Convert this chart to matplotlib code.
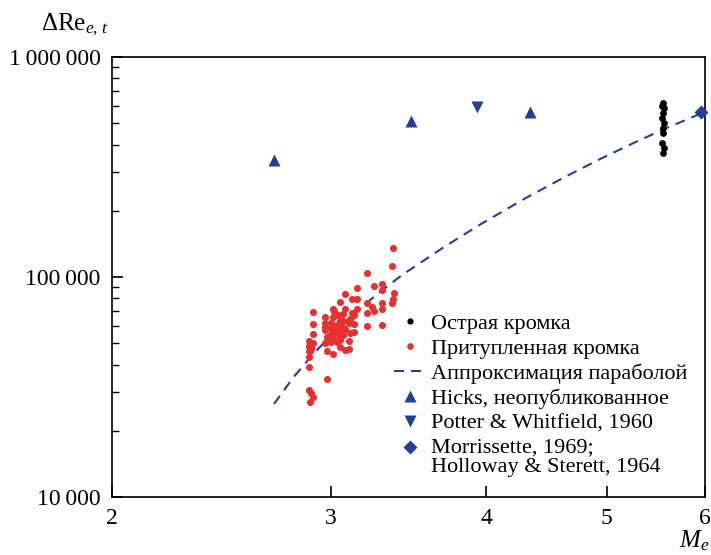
import matplotlib
matplotlib.use("Agg")
import matplotlib.pyplot as plt
import matplotlib.transforms as mtransforms
from matplotlib.ticker import FixedLocator, NullLocator, LogLocator, NullFormatter, FixedFormatter
from matplotlib.lines import Line2D

plt.rcParams['font.family'] = ['Liberation Serif', 'DejaVu Serif']
plt.rcParams['mathtext.fontset'] = 'custom'
plt.rcParams['mathtext.rm'] = 'Liberation Serif'
plt.rcParams['mathtext.it'] = 'Liberation Serif:italic'

# ---- data ----
sharp_M = [5.55, 5.54, 5.56, 5.55, 5.54, 5.56, 5.55, 5.55, 5.54, 5.56, 5.55]
sharp_Re = [618e3, 600e3, 586e3, 556e3, 528e3, 501e3, 475e3, 451e3, 406e3, 386e3, 366e3]

blunt_M = [3.365, 3.36, 3.21, 3.15, 3.08, 3.12, 3.15, 3.05, 3.30, 3.30, 3.25, 3.37,
           3.365, 3.36, 3.30, 3.21, 3.24, 3.25, 3.30, 3.21, 3.15, 3.08, 3.01, 3.12,
           3.13, 2.90, 2.97, 3.01, 3.05, 3.07, 3.11, 3.10, 3.13, 2.97, 3.00, 3.035,
           3.065, 3.08, 3.05, 3.01, 2.97, 2.98, 3.01, 3.05, 3.07, 3.11, 3.13, 3.21,
           3.30, 2.90, 2.90, 2.88, 2.89, 2.885, 2.88, 2.88, 2.98, 3.01, 3.05, 3.08,
           3.10, 3.10, 2.88, 2.98, 2.88, 2.89, 2.90, 2.885, 2.97, 3.00, 3.035, 3.05,
           2.97, 3.00, 3.03, 3.05, 3.00, 2.98, 2.89, 2.90, 2.88, 3.04, 3.07, 3.02]
blunt_Re = [135.5e3, 112e3, 104e3, 89.4e3, 83.4e3, 79.4e3, 79.4e3, 76.9e3, 93.3e3, 87.3e3, 91.3e3, 84.3e3,
            79.4e3, 76.4e3, 76.4e3, 75.9e3, 73.3e3, 70.3e3, 71.3e3, 68.8e3, 71.3e3, 71.8e3, 71.8e3, 68.4e3,
            67.0e3, 69.3e3, 65.6e3, 65.6e3, 63.3e3, 63.3e3, 64.7e3, 61.6e3, 61.0e3, 62.0e3, 61.6e3, 60.5e3,
            59.0e3, 57.8e3, 57.4e3, 57.4e3, 57.4e3, 53.5e3, 53.5e3, 53.5e3, 54.5e3, 55.5e3, 56.2e3, 59.9e3,
            60.5e3, 61.2e3, 55.1e3, 51.4e3, 48.2e3, 45.9e3, 43.4e3, 48.6e3, 45.9e3, 44.7e3, 48.2e3, 46.6e3,
            47.2e3, 51.4e3, 39.1e3, 34.3e3, 30.6e3, 29.6e3, 28.6e3, 27.1e3, 49.9e3, 50.8e3, 50.8e3, 51.7e3,
            59.5e3, 58.5e3, 56.0e3, 60.0e3, 55.0e3, 51.0e3, 47.0e3, 50.0e3, 46.0e3, 67.0e3, 68.0e3, 70.0e3]

fit_M = [2.70, 2.80, 2.90, 3.00, 3.10, 3.20, 3.30, 3.43, 3.70, 3.96, 4.30, 4.61, 4.95, 5.26, 5.60, 6.00]
fit_Re = [26.5e3, 35.1e3, 44.3e3, 54.3e3, 64.6e3, 75.7e3, 87.3e3, 103e3, 137e3, 174e3,
          228e3, 282e3, 346e3, 408e3, 479e3, 564e3]

hicks_M = [2.70, 3.48, 4.34]
hicks_Re = [340e3, 512e3, 562e3]

potter_M = [3.93]
potter_Re = [593e3]

morris_M = [5.95]
morris_Re = [562e3]

yticks = [1e4, 1e5, 1e6]
ytick_labels = ['10\u2009000', '100\u2009000', '1\u2009000\u2009000']
xticks = [2, 3, 4, 5, 6]
xtick_labels = ['2', '3', '4', '5', '6']

labels = ['Острая кромка', 'Притупленная кромка', 'Аппроксимация параболой',
          'Hicks, неопубликованное', 'Potter & Whitfield, 1960',
          'Morrissette, 1969;\nHolloway & Sterett, 1964']

red = '#e8312f'
blue = '#233f96'

fig = plt.figure(figsize=(7.11, 5.55), dpi=100)
ax = fig.add_axes([0.1575, 0.1045, 0.8341, 0.7925])
ax.set_xscale('log')
ax.set_yscale('log')
ax.set_xlim(2, 6)
ax.set_ylim(1e4, 1e6)

dash = (0, (4.8, 3.4))
ax.plot(fit_M, fit_Re, color=blue, lw=1.5, linestyle=dash, zorder=2)
ax.scatter(blunt_M, blunt_Re, s=26, color=red, linewidths=0, zorder=3)
ax.scatter(sharp_M, sharp_Re, s=24, color='black', linewidths=0, zorder=3)
ax.plot(hicks_M, hicks_Re, '^', color=blue, ms=9, mec='none', zorder=4)
ax.plot(potter_M, potter_Re, 'v', color=blue, ms=9, mec='none', zorder=4)
ax.plot(morris_M, morris_Re, 'D', color=blue, ms=7.5, mec='none', zorder=4, clip_on=False)

ax.xaxis.set_major_locator(FixedLocator(xticks))
ax.xaxis.set_major_formatter(FixedFormatter(xtick_labels))
ax.xaxis.set_minor_locator(NullLocator())
ax.yaxis.set_major_locator(FixedLocator(yticks))
ax.yaxis.set_major_formatter(FixedFormatter(ytick_labels))
ax.yaxis.set_minor_locator(LogLocator(base=10, subs=range(2, 10)))
ax.yaxis.set_minor_formatter(NullFormatter())
ax.tick_params(axis='both', which='major', direction='in', length=8, width=1.2,
               labelsize=17, top=False, right=False)
ax.tick_params(axis='y', which='minor', direction='in', length=5, width=1.0, right=False)
ax.tick_params(axis='x', pad=8)
ax.tick_params(axis='y', pad=8)
for sp in ax.spines.values():
    sp.set_linewidth(1.2)

fig.text(0.057, 0.955, r'$\Delta\mathrm{Re}_{e,\,t}$', fontsize=18, ha='left', va='center')
fig.text(0.955, 0.025, r'$M_e$', fontsize=18, ha='left', va='center')

handles = [
    Line2D([], [], marker='o', ls='none', color='black', ms=4.5, mec='none'),
    Line2D([], [], marker='o', ls='none', color=red, ms=4.8, mec='none'),
    Line2D([], [], ls=dash, color=blue, lw=1.5),
    Line2D([], [], marker='^', ls='none', color=blue, ms=9, mec='none'),
    Line2D([], [], marker='v', ls='none', color=blue, ms=9, mec='none'),
    Line2D([], [], marker='D', ls='none', color=blue, ms=7.5, mec='none'),
]
leg = ax.legend(handles, labels, loc='lower right', frameon=False, fontsize=16,
                handlelength=1.45, handletextpad=0.2, labelspacing=0.2,
                borderaxespad=0.25, bbox_to_anchor=(0.994, 0.012))
for t in leg.get_texts():
    t.set_linespacing(1.08)
# align the diamond handle with the first line of its two-line label
h = leg.legend_handles[5]
h.set_transform(h.get_transform() + mtransforms.Affine2D().translate(0, 9.5))

fig.savefig('out.png', dpi=100)
